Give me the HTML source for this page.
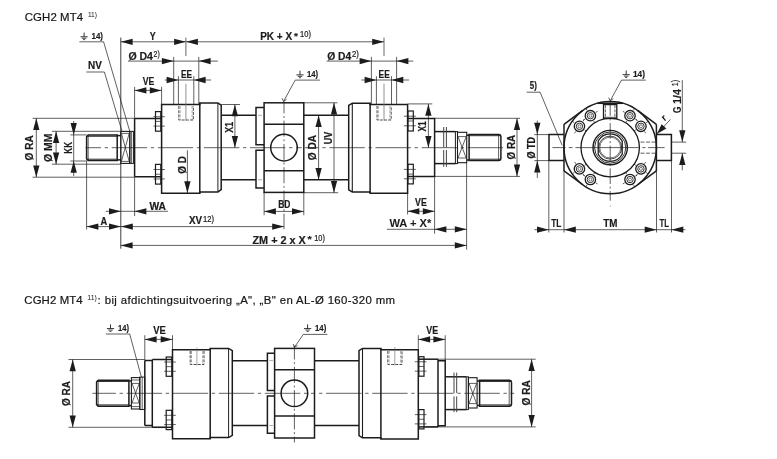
<!DOCTYPE html>
<html><head><meta charset="utf-8"><title>CGH2 MT4</title>
<style>html,body{margin:0;padding:0;background:#fff}svg{display:block;will-change:transform;-webkit-font-smoothing:antialiased}</style></head>
<body>
<svg width="777" height="459" viewBox="0 0 777 459" font-family="'Liberation Sans', Arial, sans-serif" fill="#1c1c1c">
<rect width="777" height="459" fill="#ffffff"/>
<text x="24.8" y="20.6" font-size="11.4" textLength="58.3" lengthAdjust="spacing" fill="#151515" stroke="#151515" stroke-width="0.2">CGH2 MT4</text>
<text x="87.9" y="16.6" font-size="7.6" textLength="9.1" lengthAdjust="spacingAndGlyphs" fill="#151515">11)</text>
<text x="24.3" y="303.5" font-size="11.4" textLength="58.4" lengthAdjust="spacing" fill="#151515" stroke="#151515" stroke-width="0.2">CGH2 MT4</text>
<text x="87.3" y="299.5" font-size="7.6" textLength="9.5" lengthAdjust="spacingAndGlyphs" fill="#151515">11)</text>
<text x="97.6" y="303.5" font-size="11.4" textLength="297.4" lengthAdjust="spacing" fill="#151515" stroke="#151515" stroke-width="0.2">: bij afdichtingsuitvoering „A", „B" en AL-Ø 160-320 mm</text>
<line x1="85.60" y1="147.70" x2="301.80" y2="147.70" stroke="#1c1c1c" stroke-width="0.7" stroke-dasharray="35.4 3.7 3.3 3.7" stroke-dashoffset="20"/>
<line x1="503.10" y1="147.70" x2="304.90" y2="147.70" stroke="#1c1c1c" stroke-width="0.7" stroke-dasharray="35.4 3.7 3.3 3.7" stroke-dashoffset="0"/>
<path d="M88.2,135 L117.2,135 L117.2,160.5 L88.2,160.5 L86.6,159 L86.6,136.5 Z" fill="none" stroke="#1c1c1c" stroke-width="1.5" stroke-linejoin="miter" />
<line x1="88.20" y1="135.00" x2="88.20" y2="160.50" stroke="#1c1c1c" stroke-width="0.7" />
<line x1="87.00" y1="136.30" x2="117.20" y2="136.30" stroke="#1c1c1c" stroke-width="0.9" />
<line x1="87.00" y1="159.20" x2="117.20" y2="159.20" stroke="#1c1c1c" stroke-width="0.9" />
<line x1="117.20" y1="135.60" x2="120.80" y2="135.60" stroke="#1c1c1c" stroke-width="1.5" />
<line x1="117.20" y1="159.90" x2="120.80" y2="159.90" stroke="#1c1c1c" stroke-width="1.5" />
<rect x="120.80" y="131.40" width="9.00" height="32.00" fill="none" stroke="#1c1c1c" stroke-width="1.1"/>
<line x1="121.40" y1="133.40" x2="129.20" y2="133.40" stroke="#1c1c1c" stroke-width="0.7" />
<line x1="121.40" y1="161.40" x2="129.20" y2="161.40" stroke="#1c1c1c" stroke-width="0.7" />
<line x1="121.40" y1="133.40" x2="129.20" y2="161.40" stroke="#1c1c1c" stroke-width="0.7" />
<line x1="129.20" y1="133.40" x2="121.40" y2="161.40" stroke="#1c1c1c" stroke-width="0.7" />
<rect x="129.80" y="131.40" width="3.60" height="32.00" fill="none" stroke="#1c1c1c" stroke-width="1.0"/>
<line x1="131.40" y1="131.40" x2="131.40" y2="163.40" stroke="#1c1c1c" stroke-width="0.7" />
<path d="M134.6,118.5 L161.6,118.5 M134.6,176.8 L161.6,176.8 M134.6,118.5 L134.6,176.8" fill="none" stroke="#1c1c1c" stroke-width="1.5" stroke-linejoin="miter" />
<rect x="155.50" y="111.60" width="5.30" height="19.60" fill="none" stroke="#1c1c1c" stroke-width="1.2"/>
<line x1="155.50" y1="116.70" x2="160.80" y2="116.70" stroke="#1c1c1c" stroke-width="0.7" />
<line x1="155.50" y1="121.40" x2="160.80" y2="121.40" stroke="#1c1c1c" stroke-width="0.7" />
<line x1="155.50" y1="126.10" x2="160.80" y2="126.10" stroke="#1c1c1c" stroke-width="0.7" />
<line x1="160.80" y1="116.70" x2="164.80" y2="116.70" stroke="#1c1c1c" stroke-width="0.7" />
<line x1="153.50" y1="116.70" x2="155.50" y2="116.70" stroke="#1c1c1c" stroke-width="0.7" />
<line x1="160.80" y1="126.10" x2="164.80" y2="126.10" stroke="#1c1c1c" stroke-width="0.7" />
<line x1="153.50" y1="126.10" x2="155.50" y2="126.10" stroke="#1c1c1c" stroke-width="0.7" />
<rect x="155.50" y="164.40" width="5.30" height="19.70" fill="none" stroke="#1c1c1c" stroke-width="1.2"/>
<line x1="155.50" y1="169.52" x2="160.80" y2="169.52" stroke="#1c1c1c" stroke-width="0.7" />
<line x1="155.50" y1="174.25" x2="160.80" y2="174.25" stroke="#1c1c1c" stroke-width="0.7" />
<line x1="155.50" y1="178.98" x2="160.80" y2="178.98" stroke="#1c1c1c" stroke-width="0.7" />
<line x1="160.80" y1="169.52" x2="164.80" y2="169.52" stroke="#1c1c1c" stroke-width="0.7" />
<line x1="153.50" y1="169.52" x2="155.50" y2="169.52" stroke="#1c1c1c" stroke-width="0.7" />
<line x1="160.80" y1="178.98" x2="164.80" y2="178.98" stroke="#1c1c1c" stroke-width="0.7" />
<line x1="153.50" y1="178.98" x2="155.50" y2="178.98" stroke="#1c1c1c" stroke-width="0.7" />
<path d="M161.6,104.4 L199.8,104.4 L199.8,103.1 L217.9,103.1 L221.2,105.1 L221.2,189.7 L217.9,191.9 L199.8,191.9 L199.8,193.2 L161.6,193.2 Z" fill="none" stroke="#1c1c1c" stroke-width="1.5" stroke-linejoin="miter" />
<line x1="199.80" y1="103.10" x2="199.80" y2="193.20" stroke="#1c1c1c" stroke-width="1.5" />
<line x1="217.90" y1="103.10" x2="217.90" y2="191.90" stroke="#222" stroke-width="1.0" />
<path d="M178.8,106 L178.8,120 L193.4,120 L193.4,106" fill="none" stroke="#3a3a3a" stroke-width="0.9" stroke-dasharray="3 1.2"/>
<path d="M180.10000000000002,106 L180.10000000000002,120 M192.1,106 L192.1,120" fill="none" stroke="#666" stroke-width="0.6" stroke-dasharray="3 1.2"/>
<line x1="221.20" y1="115.30" x2="256.00" y2="115.30" stroke="#1c1c1c" stroke-width="1.5" />
<line x1="221.20" y1="179.80" x2="256.00" y2="179.80" stroke="#1c1c1c" stroke-width="1.5" />
<line x1="303.80" y1="115.30" x2="348.70" y2="115.30" stroke="#1c1c1c" stroke-width="1.5" />
<line x1="303.80" y1="179.80" x2="348.70" y2="179.80" stroke="#1c1c1c" stroke-width="1.5" />
<path d="M264.1,107.5 L256,107.5 L256,144.8 L264.1,144.8 M264.1,150.3 L256,150.3 L256,187.9 L264.1,187.9" fill="none" stroke="#1c1c1c" stroke-width="1.5" stroke-linejoin="miter" />
<line x1="258.00" y1="115.30" x2="262.00" y2="115.30" stroke="#888" stroke-width="0.7" />
<line x1="258.00" y1="179.80" x2="262.00" y2="179.80" stroke="#888" stroke-width="0.7" />
<rect x="264.10" y="102.80" width="39.70" height="89.60" fill="none" stroke="#1c1c1c" stroke-width="1.5"/>
<line x1="264.10" y1="124.30" x2="303.80" y2="124.30" stroke="#1c1c1c" stroke-width="1.5" />
<line x1="264.10" y1="170.80" x2="303.80" y2="170.80" stroke="#1c1c1c" stroke-width="1.5" />
<circle cx="284.00" cy="147.60" r="13.30" fill="none" stroke="#1c1c1c" stroke-width="1.5" />
<line x1="284.00" y1="101.40" x2="284.00" y2="229.20" stroke="#1c1c1c" stroke-width="0.7" stroke-dasharray="16 2.7 1.9 2.7" stroke-dashoffset="4.1"/>
<path d="M407.6,104.6 L370.1,104.6 L370.1,103.3 L352.3,103.3 L348.7,105.4 L348.7,189.9 L352.3,192 L370.1,192 L370.1,193.2 L407.6,193.2 Z" fill="none" stroke="#1c1c1c" stroke-width="1.5" stroke-linejoin="miter" />
<line x1="352.30" y1="103.30" x2="352.30" y2="192.00" stroke="#1c1c1c" stroke-width="1.1" />
<line x1="370.10" y1="103.30" x2="370.10" y2="193.20" stroke="#1c1c1c" stroke-width="1.5" />
<path d="M377,106 L377,120 L391.2,120 L391.2,106" fill="none" stroke="#3a3a3a" stroke-width="0.9" stroke-dasharray="3 1.2"/>
<path d="M378.3,106 L378.3,120 M389.9,106 L389.9,120" fill="none" stroke="#666" stroke-width="0.6" stroke-dasharray="3 1.2"/>
<path d="M407.6,118.5 L434.6,118.5 L434.6,176.4 L407.6,176.4" fill="none" stroke="#1c1c1c" stroke-width="1.5" stroke-linejoin="miter" />
<rect x="407.90" y="111.00" width="5.40" height="20.00" fill="none" stroke="#1c1c1c" stroke-width="1.2"/>
<line x1="407.90" y1="116.20" x2="413.30" y2="116.20" stroke="#1c1c1c" stroke-width="0.7" />
<line x1="407.90" y1="121.00" x2="413.30" y2="121.00" stroke="#1c1c1c" stroke-width="0.7" />
<line x1="407.90" y1="125.80" x2="413.30" y2="125.80" stroke="#1c1c1c" stroke-width="0.7" />
<line x1="403.90" y1="116.20" x2="407.90" y2="116.20" stroke="#1c1c1c" stroke-width="0.7" />
<line x1="413.30" y1="116.20" x2="415.80" y2="116.20" stroke="#1c1c1c" stroke-width="0.7" />
<line x1="403.90" y1="125.80" x2="407.90" y2="125.80" stroke="#1c1c1c" stroke-width="0.7" />
<line x1="413.30" y1="125.80" x2="415.80" y2="125.80" stroke="#1c1c1c" stroke-width="0.7" />
<rect x="407.90" y="164.30" width="5.40" height="19.60" fill="none" stroke="#1c1c1c" stroke-width="1.2"/>
<line x1="407.90" y1="169.40" x2="413.30" y2="169.40" stroke="#1c1c1c" stroke-width="0.7" />
<line x1="407.90" y1="174.10" x2="413.30" y2="174.10" stroke="#1c1c1c" stroke-width="0.7" />
<line x1="407.90" y1="178.80" x2="413.30" y2="178.80" stroke="#1c1c1c" stroke-width="0.7" />
<line x1="403.90" y1="169.40" x2="407.90" y2="169.40" stroke="#1c1c1c" stroke-width="0.7" />
<line x1="413.30" y1="169.40" x2="415.80" y2="169.40" stroke="#1c1c1c" stroke-width="0.7" />
<line x1="403.90" y1="178.80" x2="407.90" y2="178.80" stroke="#1c1c1c" stroke-width="0.7" />
<line x1="413.30" y1="178.80" x2="415.80" y2="178.80" stroke="#1c1c1c" stroke-width="0.7" />
<line x1="434.60" y1="131.60" x2="455.40" y2="131.60" stroke="#1c1c1c" stroke-width="1.5" />
<line x1="434.60" y1="163.60" x2="455.40" y2="163.60" stroke="#1c1c1c" stroke-width="1.5" />
<line x1="443.70" y1="127.00" x2="443.70" y2="147.50" stroke="#444" stroke-width="1.0" />
<line x1="443.70" y1="150.00" x2="443.70" y2="166.80" stroke="#444" stroke-width="1.0" />
<line x1="446.40" y1="127.00" x2="446.40" y2="147.50" stroke="#444" stroke-width="1.0" />
<line x1="446.40" y1="150.00" x2="446.40" y2="166.80" stroke="#444" stroke-width="1.0" />
<rect x="455.40" y="131.60" width="2.10" height="32.00" fill="none" stroke="#1c1c1c" stroke-width="1.0"/>
<rect x="457.50" y="132.30" width="9.20" height="30.40" fill="none" stroke="#1c1c1c" stroke-width="1.1"/>
<line x1="458.00" y1="136.60" x2="466.20" y2="136.60" stroke="#1c1c1c" stroke-width="0.7" />
<line x1="458.00" y1="158.00" x2="466.20" y2="158.00" stroke="#1c1c1c" stroke-width="0.7" />
<line x1="458.00" y1="136.60" x2="466.20" y2="158.00" stroke="#1c1c1c" stroke-width="0.7" />
<line x1="466.20" y1="136.60" x2="458.00" y2="158.00" stroke="#1c1c1c" stroke-width="0.7" />
<line x1="466.70" y1="135.20" x2="469.10" y2="135.20" stroke="#1c1c1c" stroke-width="1.5" />
<line x1="466.70" y1="160.00" x2="469.10" y2="160.00" stroke="#1c1c1c" stroke-width="1.5" />
<path d="M469.1,134.4 L499,134.4 Q500.9,134.6 500.9,136.4 L500.9,158.5 Q500.9,160.3 499,160.5 L469.1,160.5 Z" fill="none" stroke="#1c1c1c" stroke-width="1.5" stroke-linejoin="miter" />
<line x1="498.60" y1="134.40" x2="498.60" y2="160.50" stroke="#1c1c1c" stroke-width="0.7" />
<line x1="469.10" y1="135.70" x2="500.40" y2="135.70" stroke="#1c1c1c" stroke-width="0.9" />
<line x1="469.10" y1="159.20" x2="500.40" y2="159.20" stroke="#1c1c1c" stroke-width="0.9" />
<line x1="120.80" y1="37.60" x2="120.80" y2="248.70" stroke="#1c1c1c" stroke-width="0.85" />
<line x1="120.80" y1="41.80" x2="384.00" y2="41.80" stroke="#1c1c1c" stroke-width="0.7" />
<polygon points="120.80,41.80 132.60,38.65 132.60,44.95" fill="#1c1c1c"/>
<polygon points="185.90,41.80 174.10,38.65 174.10,44.95" fill="#1c1c1c"/>
<polygon points="186.10,41.80 197.90,38.65 197.90,44.95" fill="#1c1c1c"/>
<polygon points="384.00,41.80 372.20,38.65 372.20,44.95" fill="#1c1c1c"/>
<line x1="185.90" y1="37.60" x2="185.90" y2="56.00" stroke="#555" stroke-width="0.9" />
<line x1="384.00" y1="37.60" x2="384.00" y2="56.00" stroke="#555" stroke-width="0.9" />
<line x1="185.90" y1="83.70" x2="185.90" y2="120.50" stroke="#777" stroke-width="0.8" />
<line x1="384.00" y1="83.70" x2="384.00" y2="120.50" stroke="#777" stroke-width="0.8" />
<text x="149.70" y="39.80" font-size="10.7" font-weight="bold" stroke="#1c1c1c" stroke-width="0.2" textLength="5.90" lengthAdjust="spacingAndGlyphs">Y</text>
<text x="260.20" y="39.80" font-size="10.7" font-weight="bold" stroke="#1c1c1c" stroke-width="0.2" textLength="31.90" lengthAdjust="spacingAndGlyphs">PK + X</text>
<text x="293.90" y="38.80" font-size="9.4" font-weight="bold" stroke="#1c1c1c" stroke-width="0.2" textLength="3.90" lengthAdjust="spacingAndGlyphs">*</text>
<text x="300.00" y="36.80" font-size="8.6" font-weight="normal" stroke="#1c1c1c" stroke-width="0.22" textLength="10.90" lengthAdjust="spacingAndGlyphs">10)</text>
<line x1="127.90" y1="61.10" x2="217.80" y2="61.10" stroke="#1c1c1c" stroke-width="0.7" />
<polygon points="173.70,61.10 161.90,57.95 161.90,64.25" fill="#1c1c1c"/>
<polygon points="198.80,61.10 210.60,57.95 210.60,64.25" fill="#1c1c1c"/>
<line x1="173.70" y1="56.90" x2="173.70" y2="104.40" stroke="#1c1c1c" stroke-width="0.7" />
<line x1="198.80" y1="56.90" x2="198.80" y2="104.40" stroke="#1c1c1c" stroke-width="0.7" />
<text x="128.40" y="59.70" font-size="10.7" font-weight="bold" stroke="#1c1c1c" stroke-width="0.2" textLength="24.60" lengthAdjust="spacingAndGlyphs">Ø D4</text>
<text x="153.60" y="57.00" font-size="8.6" font-weight="normal" stroke="#1c1c1c" stroke-width="0.22" textLength="6.20" lengthAdjust="spacingAndGlyphs">2)</text>
<line x1="164.80" y1="80.00" x2="211.00" y2="80.00" stroke="#1c1c1c" stroke-width="0.7" />
<polygon points="178.40,80.00 166.60,76.85 166.60,83.15" fill="#1c1c1c"/>
<polygon points="193.80,80.00 205.60,76.85 205.60,83.15" fill="#1c1c1c"/>
<line x1="178.40" y1="76.20" x2="178.40" y2="105.00" stroke="#1c1c1c" stroke-width="0.7" />
<line x1="193.80" y1="76.20" x2="193.80" y2="105.00" stroke="#1c1c1c" stroke-width="0.7" />
<text x="180.90" y="78.30" font-size="10.7" font-weight="bold" stroke="#1c1c1c" stroke-width="0.2" textLength="11.20" lengthAdjust="spacingAndGlyphs">EE</text>
<line x1="134.60" y1="86.80" x2="134.60" y2="118.50" stroke="#1c1c1c" stroke-width="0.7" />
<line x1="161.60" y1="86.80" x2="161.60" y2="104.10" stroke="#1c1c1c" stroke-width="0.7" />
<line x1="134.60" y1="90.40" x2="161.60" y2="90.40" stroke="#1c1c1c" stroke-width="0.7" />
<polygon points="134.60,90.40 146.40,87.25 146.40,93.55" fill="#1c1c1c"/>
<polygon points="161.60,90.40 149.80,87.25 149.80,93.55" fill="#1c1c1c"/>
<text x="142.70" y="84.80" font-size="10.7" font-weight="bold" stroke="#1c1c1c" stroke-width="0.2" textLength="11.60" lengthAdjust="spacingAndGlyphs">VE</text>
<line x1="84.10" y1="32.60" x2="84.10" y2="36.80" stroke="#1c1c1c" stroke-width="0.9" />
<line x1="80.50" y1="36.80" x2="87.70" y2="36.80" stroke="#1c1c1c" stroke-width="0.9" />
<line x1="81.90" y1="38.30" x2="86.30" y2="38.30" stroke="#1c1c1c" stroke-width="0.8" />
<line x1="83.10" y1="39.60" x2="85.10" y2="39.60" stroke="#1c1c1c" stroke-width="0.8" />
<text x="91.50" y="39.30" font-size="9.4" font-weight="bold" stroke="#1c1c1c" stroke-width="0.2" textLength="11.50" lengthAdjust="spacingAndGlyphs">14)</text>
<line x1="79.40" y1="41.80" x2="103.60" y2="41.80" stroke="#1c1c1c" stroke-width="0.7" />
<line x1="103.60" y1="41.80" x2="129.80" y2="131.40" stroke="#1c1c1c" stroke-width="0.7" />
<text x="88.10" y="69.00" font-size="10.7" font-weight="bold" stroke="#1c1c1c" stroke-width="0.2" textLength="13.80" lengthAdjust="spacingAndGlyphs">NV</text>
<line x1="86.40" y1="72.00" x2="104.40" y2="72.00" stroke="#1c1c1c" stroke-width="0.7" />
<line x1="104.40" y1="72.00" x2="122.00" y2="131.40" stroke="#1c1c1c" stroke-width="0.7" />
<line x1="326.60" y1="61.10" x2="413.30" y2="61.10" stroke="#1c1c1c" stroke-width="0.7" />
<polygon points="371.40,61.10 359.60,57.95 359.60,64.25" fill="#1c1c1c"/>
<polygon points="396.60,61.10 408.40,57.95 408.40,64.25" fill="#1c1c1c"/>
<line x1="371.40" y1="56.90" x2="371.40" y2="103.90" stroke="#1c1c1c" stroke-width="0.7" />
<line x1="396.60" y1="56.90" x2="396.60" y2="103.90" stroke="#1c1c1c" stroke-width="0.7" />
<text x="327.20" y="59.70" font-size="10.7" font-weight="bold" stroke="#1c1c1c" stroke-width="0.2" textLength="24.00" lengthAdjust="spacingAndGlyphs">Ø D4</text>
<text x="351.90" y="57.00" font-size="8.6" font-weight="normal" stroke="#1c1c1c" stroke-width="0.22" textLength="6.90" lengthAdjust="spacingAndGlyphs">2)</text>
<line x1="361.30" y1="80.00" x2="409.10" y2="80.00" stroke="#1c1c1c" stroke-width="0.7" />
<polygon points="376.40,80.00 364.60,76.85 364.60,83.15" fill="#1c1c1c"/>
<polygon points="391.50,80.00 403.30,76.85 403.30,83.15" fill="#1c1c1c"/>
<line x1="376.40" y1="76.20" x2="376.40" y2="105.00" stroke="#1c1c1c" stroke-width="0.7" />
<line x1="391.50" y1="76.20" x2="391.50" y2="105.00" stroke="#1c1c1c" stroke-width="0.7" />
<text x="378.60" y="77.50" font-size="10.7" font-weight="bold" stroke="#1c1c1c" stroke-width="0.2" textLength="11.20" lengthAdjust="spacingAndGlyphs">EE</text>
<line x1="300.00" y1="70.70" x2="300.00" y2="74.90" stroke="#1c1c1c" stroke-width="0.9" />
<line x1="296.40" y1="74.90" x2="303.60" y2="74.90" stroke="#1c1c1c" stroke-width="0.9" />
<line x1="297.80" y1="76.40" x2="302.20" y2="76.40" stroke="#1c1c1c" stroke-width="0.8" />
<line x1="299.00" y1="77.70" x2="301.00" y2="77.70" stroke="#1c1c1c" stroke-width="0.8" />
<text x="307.00" y="77.30" font-size="9.4" font-weight="bold" stroke="#1c1c1c" stroke-width="0.2" textLength="11.20" lengthAdjust="spacingAndGlyphs">14)</text>
<line x1="295.20" y1="80.10" x2="319.90" y2="80.10" stroke="#1c1c1c" stroke-width="0.7" />
<line x1="295.20" y1="80.10" x2="283.60" y2="101.40" stroke="#1c1c1c" stroke-width="0.7" />
<line x1="283.60" y1="101.40" x2="282.00" y2="98.20" stroke="#1c1c1c" stroke-width="0.7" />
<line x1="283.60" y1="101.40" x2="286.60" y2="99.30" stroke="#1c1c1c" stroke-width="0.7" />
<line x1="221.20" y1="104.50" x2="240.00" y2="104.50" stroke="#1c1c1c" stroke-width="0.7" />
<line x1="234.90" y1="104.50" x2="234.90" y2="147.70" stroke="#1c1c1c" stroke-width="0.7" />
<polygon points="234.90,104.50 231.75,116.30 238.05,116.30" fill="#1c1c1c"/>
<polygon points="234.90,147.70 231.75,135.90 238.05,135.90" fill="#1c1c1c"/>
<text transform="translate(233.10,132.70) rotate(-90)" font-size="11.3" font-weight="bold" stroke="#1c1c1c" stroke-width="0.2" textLength="10.80" lengthAdjust="spacingAndGlyphs">X1</text>
<line x1="187.40" y1="150.20" x2="187.40" y2="193.00" stroke="#1c1c1c" stroke-width="0.7" />
<polygon points="187.40,193.00 184.25,181.20 190.55,181.20" fill="#1c1c1c"/>
<text transform="translate(185.70,173.70) rotate(-90)" font-size="10.7" font-weight="bold" stroke="#1c1c1c" stroke-width="0.2" textLength="17.70" lengthAdjust="spacingAndGlyphs">Ø D</text>
<line x1="32.60" y1="118.30" x2="134.60" y2="118.30" stroke="#1c1c1c" stroke-width="0.7" />
<line x1="32.60" y1="177.20" x2="134.60" y2="177.20" stroke="#1c1c1c" stroke-width="0.7" />
<line x1="36.30" y1="118.30" x2="36.30" y2="177.20" stroke="#1c1c1c" stroke-width="0.7" />
<polygon points="36.30,118.30 33.15,130.10 39.45,130.10" fill="#1c1c1c"/>
<polygon points="36.30,177.20 33.15,165.40 39.45,165.40" fill="#1c1c1c"/>
<text transform="translate(33.40,160.40) rotate(-90)" font-size="10.7" font-weight="bold" stroke="#1c1c1c" stroke-width="0.2" textLength="25.10" lengthAdjust="spacingAndGlyphs">Ø RA</text>
<line x1="51.90" y1="131.30" x2="120.80" y2="131.30" stroke="#1c1c1c" stroke-width="0.7" />
<line x1="51.90" y1="164.20" x2="120.80" y2="164.20" stroke="#1c1c1c" stroke-width="0.7" />
<line x1="56.10" y1="131.30" x2="56.10" y2="164.20" stroke="#1c1c1c" stroke-width="0.7" />
<polygon points="56.10,131.30 52.95,143.10 59.25,143.10" fill="#1c1c1c"/>
<polygon points="56.10,164.20 52.95,152.40 59.25,152.40" fill="#1c1c1c"/>
<text transform="translate(51.90,162.10) rotate(-90)" font-size="10.7" font-weight="bold" stroke="#1c1c1c" stroke-width="0.2" textLength="28.50" lengthAdjust="spacingAndGlyphs">Ø MM</text>
<line x1="70.30" y1="134.90" x2="86.60" y2="134.90" stroke="#1c1c1c" stroke-width="0.7" />
<line x1="70.30" y1="161.00" x2="86.60" y2="161.00" stroke="#1c1c1c" stroke-width="0.7" />
<line x1="73.70" y1="121.00" x2="73.70" y2="176.00" stroke="#1c1c1c" stroke-width="0.7" />
<polygon points="73.70,134.90 70.55,123.10 76.85,123.10" fill="#1c1c1c"/>
<polygon points="73.70,161.00 70.55,172.80 76.85,172.80" fill="#1c1c1c"/>
<text transform="translate(72.00,153.70) rotate(-90)" font-size="10.7" font-weight="bold" stroke="#1c1c1c" stroke-width="0.2" textLength="11.70" lengthAdjust="spacingAndGlyphs">KK</text>
<line x1="318.60" y1="115.30" x2="318.60" y2="179.80" stroke="#1c1c1c" stroke-width="0.7" />
<polygon points="318.60,115.30 315.45,127.10 321.75,127.10" fill="#1c1c1c"/>
<polygon points="318.60,179.80 315.45,168.00 321.75,168.00" fill="#1c1c1c"/>
<text transform="translate(315.90,160.20) rotate(-90)" font-size="10.7" font-weight="bold" stroke="#1c1c1c" stroke-width="0.2" textLength="25.20" lengthAdjust="spacingAndGlyphs">Ø DA</text>
<line x1="303.80" y1="102.80" x2="337.40" y2="102.80" stroke="#1c1c1c" stroke-width="0.7" />
<line x1="303.80" y1="192.70" x2="338.20" y2="192.70" stroke="#1c1c1c" stroke-width="0.7" />
<line x1="334.00" y1="102.80" x2="334.00" y2="192.70" stroke="#1c1c1c" stroke-width="0.7" />
<polygon points="334.00,102.80 330.85,114.60 337.15,114.60" fill="#1c1c1c"/>
<polygon points="334.00,192.70 330.85,180.90 337.15,180.90" fill="#1c1c1c"/>
<text transform="translate(331.50,144.30) rotate(-90)" font-size="10.7" font-weight="bold" stroke="#1c1c1c" stroke-width="0.2" textLength="12.60" lengthAdjust="spacingAndGlyphs">UV</text>
<line x1="407.60" y1="103.90" x2="432.30" y2="103.90" stroke="#1c1c1c" stroke-width="0.7" />
<line x1="428.40" y1="103.90" x2="428.40" y2="147.70" stroke="#1c1c1c" stroke-width="0.7" />
<polygon points="428.40,103.90 425.25,115.70 431.55,115.70" fill="#1c1c1c"/>
<polygon points="428.40,147.70 425.25,135.90 431.55,135.90" fill="#1c1c1c"/>
<text transform="translate(426.00,131.50) rotate(-90)" font-size="11.3" font-weight="bold" stroke="#1c1c1c" stroke-width="0.2" textLength="10.20" lengthAdjust="spacingAndGlyphs">X1</text>
<line x1="434.60" y1="118.30" x2="520.00" y2="118.30" stroke="#1c1c1c" stroke-width="0.7" />
<line x1="434.60" y1="176.40" x2="520.00" y2="176.40" stroke="#1c1c1c" stroke-width="0.7" />
<line x1="517.00" y1="118.30" x2="517.00" y2="176.40" stroke="#1c1c1c" stroke-width="0.7" />
<polygon points="517.00,118.30 513.85,130.10 520.15,130.10" fill="#1c1c1c"/>
<polygon points="517.00,176.40 513.85,164.60 520.15,164.60" fill="#1c1c1c"/>
<text transform="translate(514.90,159.40) rotate(-90)" font-size="10.7" font-weight="bold" stroke="#1c1c1c" stroke-width="0.2" textLength="24.60" lengthAdjust="spacingAndGlyphs">Ø RA</text>
<line x1="86.60" y1="160.50" x2="86.60" y2="229.60" stroke="#1c1c1c" stroke-width="0.7" />
<line x1="134.60" y1="176.80" x2="134.60" y2="216.00" stroke="#1c1c1c" stroke-width="0.7" />
<line x1="105.60" y1="211.30" x2="167.90" y2="211.30" stroke="#1c1c1c" stroke-width="0.7" />
<polygon points="120.80,211.30 109.00,208.15 109.00,214.45" fill="#1c1c1c"/>
<polygon points="134.60,211.30 146.40,208.15 146.40,214.45" fill="#1c1c1c"/>
<text x="149.40" y="209.80" font-size="10.7" font-weight="bold" stroke="#1c1c1c" stroke-width="0.2" textLength="16.50" lengthAdjust="spacingAndGlyphs">WA</text>
<line x1="86.60" y1="226.60" x2="284.00" y2="226.60" stroke="#1c1c1c" stroke-width="0.7" />
<polygon points="86.60,226.60 98.40,223.45 98.40,229.75" fill="#1c1c1c"/>
<polygon points="120.80,226.60 109.00,223.45 109.00,229.75" fill="#1c1c1c"/>
<polygon points="121.00,226.60 132.80,223.45 132.80,229.75" fill="#1c1c1c"/>
<polygon points="284.00,226.60 272.20,223.45 272.20,229.75" fill="#1c1c1c"/>
<text x="100.50" y="224.60" font-size="10.7" font-weight="bold" stroke="#1c1c1c" stroke-width="0.2" textLength="6.70" lengthAdjust="spacingAndGlyphs">A</text>
<text x="188.90" y="224.40" font-size="10.7" font-weight="bold" stroke="#1c1c1c" stroke-width="0.2" textLength="13.10" lengthAdjust="spacingAndGlyphs">XV</text>
<text x="203.00" y="221.50" font-size="8.6" font-weight="normal" stroke="#1c1c1c" stroke-width="0.22" textLength="11.00" lengthAdjust="spacingAndGlyphs">12)</text>
<line x1="120.80" y1="245.40" x2="466.60" y2="245.40" stroke="#1c1c1c" stroke-width="0.7" />
<polygon points="120.80,245.40 132.60,242.25 132.60,248.55" fill="#1c1c1c"/>
<polygon points="466.60,245.40 454.80,242.25 454.80,248.55" fill="#1c1c1c"/>
<text x="252.50" y="243.60" font-size="10.7" font-weight="bold" stroke="#1c1c1c" stroke-width="0.2" textLength="53.30" lengthAdjust="spacingAndGlyphs">ZM + 2 x X</text>
<text x="307.60" y="242.40" font-size="9.4" font-weight="bold" stroke="#1c1c1c" stroke-width="0.2" textLength="4.20" lengthAdjust="spacingAndGlyphs">*</text>
<text x="314.20" y="240.50" font-size="8.6" font-weight="normal" stroke="#1c1c1c" stroke-width="0.22" textLength="10.70" lengthAdjust="spacingAndGlyphs">10)</text>
<line x1="264.10" y1="192.40" x2="264.10" y2="215.20" stroke="#1c1c1c" stroke-width="0.7" />
<line x1="303.80" y1="192.40" x2="303.80" y2="215.20" stroke="#1c1c1c" stroke-width="0.7" />
<line x1="264.10" y1="211.40" x2="303.80" y2="211.40" stroke="#1c1c1c" stroke-width="0.7" />
<polygon points="264.10,211.40 275.90,208.25 275.90,214.55" fill="#1c1c1c"/>
<polygon points="303.80,211.40 292.00,208.25 292.00,214.55" fill="#1c1c1c"/>
<text x="278.20" y="208.10" font-size="10.7" font-weight="bold" stroke="#1c1c1c" stroke-width="0.2" textLength="12.20" lengthAdjust="spacingAndGlyphs">BD</text>
<line x1="407.60" y1="193.00" x2="407.60" y2="214.50" stroke="#1c1c1c" stroke-width="0.7" />
<line x1="434.60" y1="176.40" x2="434.60" y2="233.70" stroke="#1c1c1c" stroke-width="0.7" />
<line x1="407.60" y1="211.30" x2="434.60" y2="211.30" stroke="#1c1c1c" stroke-width="0.7" />
<polygon points="407.60,211.30 419.40,208.15 419.40,214.45" fill="#1c1c1c"/>
<polygon points="434.60,211.30 422.80,208.15 422.80,214.45" fill="#1c1c1c"/>
<text x="415.10" y="205.80" font-size="10.7" font-weight="bold" stroke="#1c1c1c" stroke-width="0.2" textLength="11.70" lengthAdjust="spacingAndGlyphs">VE</text>
<line x1="466.60" y1="162.70" x2="466.60" y2="249.60" stroke="#1c1c1c" stroke-width="0.7" />
<line x1="386.90" y1="229.30" x2="466.60" y2="229.30" stroke="#1c1c1c" stroke-width="0.7" />
<polygon points="434.60,229.30 446.40,226.15 446.40,232.45" fill="#1c1c1c"/>
<polygon points="466.60,229.30 454.80,226.15 454.80,232.45" fill="#1c1c1c"/>
<text x="389.40" y="227.20" font-size="10.9" font-weight="bold" stroke="#1c1c1c" stroke-width="0.05" textLength="42.00" lengthAdjust="spacingAndGlyphs">WA + X*</text>
<line x1="552.40" y1="147.60" x2="664.60" y2="147.60" stroke="#1c1c1c" stroke-width="0.7" stroke-dasharray="13.3 3.1 3.7 2.9 63.4 3.5 3.1 2.7 16.5 50" stroke-dashoffset="0"/>
<line x1="610.20" y1="200.70" x2="610.20" y2="101.50" stroke="#1c1c1c" stroke-width="0.7" stroke-dasharray="15.6 2.6 1.9 2.6" stroke-dashoffset="6.0"/>
<line x1="610.20" y1="205.00" x2="610.20" y2="207.00" stroke="#888" stroke-width="0.5" />
<circle cx="610.20" cy="147.60" r="46.20" fill="none" stroke="#1c1c1c" stroke-width="1.5" />
<line x1="564.00" y1="124.30" x2="564.00" y2="170.90" stroke="#1c1c1c" stroke-width="1.5" />
<line x1="564.00" y1="124.30" x2="582.74" y2="110.45" stroke="#1c1c1c" stroke-width="1.5" />
<line x1="564.00" y1="170.90" x2="582.74" y2="184.75" stroke="#1c1c1c" stroke-width="1.5" />
<line x1="656.40" y1="124.30" x2="656.40" y2="170.90" stroke="#1c1c1c" stroke-width="1.5" />
<line x1="656.40" y1="124.30" x2="637.66" y2="110.45" stroke="#1c1c1c" stroke-width="1.5" />
<line x1="656.40" y1="170.90" x2="637.66" y2="184.75" stroke="#1c1c1c" stroke-width="1.5" />
<line x1="597.50" y1="103.30" x2="623.00" y2="103.30" stroke="#1c1c1c" stroke-width="1.5" />
<circle cx="610.20" cy="147.60" r="29.20" fill="none" stroke="#1c1c1c" stroke-width="1.3" />
<circle cx="610.20" cy="147.60" r="17.20" fill="none" stroke="#1c1c1c" stroke-width="1.4" />
<circle cx="610.20" cy="147.60" r="15.60" fill="none" stroke="#1c1c1c" stroke-width="0.9" />
<path d="M598.20,140.99 A13.7,13.7 0 0 1 622.20,140.99 L622.20,154.21 A13.7,13.7 0 0 1 598.20,154.21 Z" fill="none" stroke="#1c1c1c" stroke-width="1.3" stroke-linejoin="miter" />
<circle cx="610.20" cy="147.60" r="11.50" fill="none" stroke="#1c1c1c" stroke-width="0.8" />
<circle cx="610.20" cy="147.60" r="10.40" fill="none" stroke="#1c1c1c" stroke-width="0.6" />
<circle cx="579.45" cy="126.30" r="5.20" fill="none" stroke="#1c1c1c" stroke-width="1.3" />
<circle cx="579.45" cy="126.30" r="3.20" fill="none" stroke="#1c1c1c" stroke-width="0.9" />
<circle cx="579.45" cy="126.30" r="1.50" fill="none" stroke="#1c1c1c" stroke-width="0.6" />
<line x1="575.92" y1="131.40" x2="574.61" y2="133.29" stroke="#1c1c1c" stroke-width="0.7" />
<line x1="582.98" y1="121.20" x2="584.29" y2="119.31" stroke="#1c1c1c" stroke-width="0.7" />
<line x1="574.35" y1="122.77" x2="572.46" y2="121.46" stroke="#1c1c1c" stroke-width="0.7" />
<line x1="584.55" y1="129.83" x2="586.44" y2="131.14" stroke="#1c1c1c" stroke-width="0.7" />
<circle cx="579.45" cy="168.90" r="5.20" fill="none" stroke="#1c1c1c" stroke-width="1.3" />
<circle cx="579.45" cy="168.90" r="3.20" fill="none" stroke="#1c1c1c" stroke-width="0.9" />
<circle cx="579.45" cy="168.90" r="1.50" fill="none" stroke="#1c1c1c" stroke-width="0.6" />
<line x1="582.98" y1="174.00" x2="584.29" y2="175.89" stroke="#1c1c1c" stroke-width="0.7" />
<line x1="575.92" y1="163.80" x2="574.61" y2="161.91" stroke="#1c1c1c" stroke-width="0.7" />
<line x1="574.35" y1="172.43" x2="572.46" y2="173.74" stroke="#1c1c1c" stroke-width="0.7" />
<line x1="584.55" y1="165.37" x2="586.44" y2="164.06" stroke="#1c1c1c" stroke-width="0.7" />
<circle cx="640.95" cy="126.30" r="5.20" fill="none" stroke="#1c1c1c" stroke-width="1.3" />
<circle cx="640.95" cy="126.30" r="3.20" fill="none" stroke="#1c1c1c" stroke-width="0.9" />
<circle cx="640.95" cy="126.30" r="1.50" fill="none" stroke="#1c1c1c" stroke-width="0.6" />
<line x1="637.42" y1="121.20" x2="636.11" y2="119.31" stroke="#1c1c1c" stroke-width="0.7" />
<line x1="644.48" y1="131.40" x2="645.79" y2="133.29" stroke="#1c1c1c" stroke-width="0.7" />
<line x1="646.05" y1="122.77" x2="647.94" y2="121.46" stroke="#1c1c1c" stroke-width="0.7" />
<line x1="635.85" y1="129.83" x2="633.96" y2="131.14" stroke="#1c1c1c" stroke-width="0.7" />
<circle cx="640.95" cy="168.90" r="5.20" fill="none" stroke="#1c1c1c" stroke-width="1.3" />
<circle cx="640.95" cy="168.90" r="3.20" fill="none" stroke="#1c1c1c" stroke-width="0.9" />
<circle cx="640.95" cy="168.90" r="1.50" fill="none" stroke="#1c1c1c" stroke-width="0.6" />
<line x1="644.48" y1="163.80" x2="645.79" y2="161.91" stroke="#1c1c1c" stroke-width="0.7" />
<line x1="637.42" y1="174.00" x2="636.11" y2="175.89" stroke="#1c1c1c" stroke-width="0.7" />
<line x1="646.05" y1="172.43" x2="647.94" y2="173.74" stroke="#1c1c1c" stroke-width="0.7" />
<line x1="635.85" y1="165.37" x2="633.96" y2="164.06" stroke="#1c1c1c" stroke-width="0.7" />
<circle cx="590.40" cy="115.70" r="5.20" fill="none" stroke="#1c1c1c" stroke-width="1.3" />
<circle cx="590.40" cy="115.70" r="3.20" fill="none" stroke="#1c1c1c" stroke-width="0.9" />
<circle cx="590.40" cy="115.70" r="1.50" fill="none" stroke="#1c1c1c" stroke-width="0.6" />
<line x1="585.13" y1="118.97" x2="583.18" y2="120.18" stroke="#1c1c1c" stroke-width="0.7" />
<line x1="595.67" y1="112.43" x2="597.62" y2="111.22" stroke="#1c1c1c" stroke-width="0.7" />
<line x1="587.13" y1="110.43" x2="585.92" y2="108.48" stroke="#1c1c1c" stroke-width="0.7" />
<line x1="593.67" y1="120.97" x2="594.88" y2="122.92" stroke="#1c1c1c" stroke-width="0.7" />
<circle cx="590.40" cy="179.50" r="5.20" fill="none" stroke="#1c1c1c" stroke-width="1.3" />
<circle cx="590.40" cy="179.50" r="3.20" fill="none" stroke="#1c1c1c" stroke-width="0.9" />
<circle cx="590.40" cy="179.50" r="1.50" fill="none" stroke="#1c1c1c" stroke-width="0.6" />
<line x1="595.67" y1="182.77" x2="597.62" y2="183.98" stroke="#1c1c1c" stroke-width="0.7" />
<line x1="585.13" y1="176.23" x2="583.18" y2="175.02" stroke="#1c1c1c" stroke-width="0.7" />
<line x1="587.13" y1="184.77" x2="585.92" y2="186.72" stroke="#1c1c1c" stroke-width="0.7" />
<line x1="593.67" y1="174.23" x2="594.88" y2="172.28" stroke="#1c1c1c" stroke-width="0.7" />
<circle cx="630.00" cy="115.70" r="5.20" fill="none" stroke="#1c1c1c" stroke-width="1.3" />
<circle cx="630.00" cy="115.70" r="3.20" fill="none" stroke="#1c1c1c" stroke-width="0.9" />
<circle cx="630.00" cy="115.70" r="1.50" fill="none" stroke="#1c1c1c" stroke-width="0.6" />
<line x1="624.73" y1="112.43" x2="622.78" y2="111.22" stroke="#1c1c1c" stroke-width="0.7" />
<line x1="635.27" y1="118.97" x2="637.22" y2="120.18" stroke="#1c1c1c" stroke-width="0.7" />
<line x1="633.27" y1="110.43" x2="634.48" y2="108.48" stroke="#1c1c1c" stroke-width="0.7" />
<line x1="626.73" y1="120.97" x2="625.52" y2="122.92" stroke="#1c1c1c" stroke-width="0.7" />
<circle cx="630.00" cy="179.50" r="5.20" fill="none" stroke="#1c1c1c" stroke-width="1.3" />
<circle cx="630.00" cy="179.50" r="3.20" fill="none" stroke="#1c1c1c" stroke-width="0.9" />
<circle cx="630.00" cy="179.50" r="1.50" fill="none" stroke="#1c1c1c" stroke-width="0.6" />
<line x1="635.27" y1="176.23" x2="637.22" y2="175.02" stroke="#1c1c1c" stroke-width="0.7" />
<line x1="624.73" y1="182.77" x2="622.78" y2="183.98" stroke="#1c1c1c" stroke-width="0.7" />
<line x1="633.27" y1="184.77" x2="634.48" y2="186.72" stroke="#1c1c1c" stroke-width="0.7" />
<line x1="626.73" y1="174.23" x2="625.52" y2="172.28" stroke="#1c1c1c" stroke-width="0.7" />
<path d="M564,134.6 L549,134.6 L549,160.6 L564,160.6" fill="none" stroke="#1c1c1c" stroke-width="1.5" stroke-linejoin="miter" />
<path d="M656.6,134.6 L671.4,134.6 L671.4,160.6 L656.6,160.6" fill="none" stroke="#1c1c1c" stroke-width="1.5" stroke-linejoin="miter" />
<rect x="603.50" y="104.60" width="13.30" height="13.80" fill="none" stroke="#1c1c1c" stroke-width="1.3"/>
<path d="M605.4,105.2 L605.4,117.6 M614.9,105.2 L614.9,117.6" fill="none" stroke="#333" stroke-width="0.8" stroke-dasharray="3 1.2"/><path d="M604,117.3 L616.4,117.3" fill="none" stroke="#333" stroke-width="0.8"/>
<line x1="640.50" y1="142.10" x2="656.60" y2="142.10" stroke="#1c1c1c" stroke-width="0.7" stroke-dasharray="4 1.5"/>
<line x1="640.50" y1="153.20" x2="656.60" y2="153.20" stroke="#1c1c1c" stroke-width="0.7" stroke-dasharray="4 1.5"/>
<line x1="671.40" y1="142.10" x2="686.20" y2="142.10" stroke="#1c1c1c" stroke-width="0.7" />
<line x1="671.40" y1="153.20" x2="686.20" y2="153.20" stroke="#1c1c1c" stroke-width="0.7" />
<line x1="682.30" y1="80.10" x2="682.30" y2="142.10" stroke="#1c1c1c" stroke-width="0.7" />
<line x1="682.30" y1="153.20" x2="682.30" y2="170.30" stroke="#1c1c1c" stroke-width="0.7" />
<polygon points="682.30,142.10 679.15,130.30 685.45,130.30" fill="#1c1c1c"/>
<polygon points="682.30,153.20 679.15,165.00 685.45,165.00" fill="#1c1c1c"/>
<text transform="translate(680.60,113.10) rotate(-90)" font-size="11" font-weight="bold" stroke="#1c1c1c" stroke-width="0.1" textLength="6.50" lengthAdjust="spacingAndGlyphs">G</text>
<text transform="translate(680.60,104.00) rotate(-90)" font-size="11" font-weight="bold" stroke="#1c1c1c" stroke-width="0.1" textLength="14.80" lengthAdjust="spacingAndGlyphs">1/4</text>
<text transform="translate(678.20,86.20) rotate(-90)" font-size="8.6" font-weight="normal" stroke="#1c1c1c" stroke-width="0.22" textLength="6.20" lengthAdjust="spacingAndGlyphs">1)</text>
<text transform="translate(664.6,121.6) rotate(-40)" font-size="10" font-weight="bold">r</text>
<line x1="670.50" y1="119.40" x2="656.80" y2="134.00" stroke="#1c1c1c" stroke-width="0.7" />
<polygon points="656.80,134.00 661.65,124.15 666.32,128.53" fill="#1c1c1c"/>
<text x="529.70" y="89.40" font-size="10.7" font-weight="bold" stroke="#1c1c1c" stroke-width="0.2" textLength="7.10" lengthAdjust="spacingAndGlyphs">5)</text>
<line x1="526.70" y1="92.20" x2="540.10" y2="92.20" stroke="#1c1c1c" stroke-width="0.7" />
<line x1="540.10" y1="92.20" x2="562.20" y2="145.40" stroke="#1c1c1c" stroke-width="0.7" />
<line x1="626.20" y1="70.50" x2="626.20" y2="74.70" stroke="#1c1c1c" stroke-width="0.9" />
<line x1="622.60" y1="74.70" x2="629.80" y2="74.70" stroke="#1c1c1c" stroke-width="0.9" />
<line x1="624.00" y1="76.20" x2="628.40" y2="76.20" stroke="#1c1c1c" stroke-width="0.8" />
<line x1="625.20" y1="77.50" x2="627.20" y2="77.50" stroke="#1c1c1c" stroke-width="0.8" />
<text x="633.00" y="77.30" font-size="9.4" font-weight="bold" stroke="#1c1c1c" stroke-width="0.2" textLength="12.00" lengthAdjust="spacingAndGlyphs">14)</text>
<line x1="621.50" y1="80.10" x2="645.80" y2="80.10" stroke="#1c1c1c" stroke-width="0.7" />
<line x1="621.50" y1="80.10" x2="610.20" y2="100.80" stroke="#1c1c1c" stroke-width="0.7" />
<line x1="610.20" y1="100.80" x2="608.60" y2="97.60" stroke="#1c1c1c" stroke-width="0.7" />
<line x1="610.20" y1="100.80" x2="613.20" y2="98.70" stroke="#1c1c1c" stroke-width="0.7" />
<line x1="534.30" y1="134.60" x2="549.00" y2="134.60" stroke="#1c1c1c" stroke-width="0.7" />
<line x1="534.30" y1="160.60" x2="549.00" y2="160.60" stroke="#1c1c1c" stroke-width="0.7" />
<line x1="537.30" y1="120.50" x2="537.30" y2="177.90" stroke="#1c1c1c" stroke-width="0.7" />
<polygon points="537.30,134.60 534.15,122.80 540.45,122.80" fill="#1c1c1c"/>
<polygon points="537.30,160.60 534.15,172.40 540.45,172.40" fill="#1c1c1c"/>
<text transform="translate(535.30,158.60) rotate(-90)" font-size="10.7" font-weight="bold" stroke="#1c1c1c" stroke-width="0.2" textLength="21.60" lengthAdjust="spacingAndGlyphs">Ø TD</text>
<line x1="548.80" y1="160.60" x2="548.80" y2="232.50" stroke="#1c1c1c" stroke-width="0.7" />
<line x1="564.00" y1="170.60" x2="564.00" y2="232.50" stroke="#1c1c1c" stroke-width="0.7" />
<line x1="656.50" y1="170.60" x2="656.50" y2="232.50" stroke="#1c1c1c" stroke-width="0.7" />
<line x1="671.50" y1="160.60" x2="671.50" y2="232.50" stroke="#1c1c1c" stroke-width="0.7" />
<line x1="534.40" y1="229.70" x2="685.40" y2="229.70" stroke="#1c1c1c" stroke-width="0.7" />
<polygon points="548.80,229.70 537.00,226.55 537.00,232.85" fill="#1c1c1c"/>
<polygon points="564.00,229.70 575.80,226.55 575.80,232.85" fill="#1c1c1c"/>
<polygon points="656.50,229.70 644.70,226.55 644.70,232.85" fill="#1c1c1c"/>
<polygon points="671.50,229.70 683.30,226.55 683.30,232.85" fill="#1c1c1c"/>
<text x="551.20" y="227.00" font-size="10.7" font-weight="bold" stroke="#1c1c1c" stroke-width="0.2" textLength="10.10" lengthAdjust="spacingAndGlyphs">TL</text>
<text x="603.30" y="227.00" font-size="10.7" font-weight="bold" stroke="#1c1c1c" stroke-width="0.2" textLength="14.20" lengthAdjust="spacingAndGlyphs">TM</text>
<text x="659.50" y="227.00" font-size="10.7" font-weight="bold" stroke="#1c1c1c" stroke-width="0.2" textLength="9.50" lengthAdjust="spacingAndGlyphs">TL</text>
<line x1="92.40" y1="393.30" x2="315.10" y2="393.30" stroke="#1c1c1c" stroke-width="0.7" stroke-dasharray="35.4 3.7 3.3 3.7" stroke-dashoffset="11.9"/>
<line x1="319.10" y1="393.30" x2="514.20" y2="393.30" stroke="#1c1c1c" stroke-width="0.7" stroke-dasharray="35.4 3.7 3.3 3.7" stroke-dashoffset="39.1"/>
<path d="M98.2,380.2 L128.9,380.2 L128.9,406.2 L98.2,406.2 L96.6,404.7 L96.6,381.7 Z" fill="none" stroke="#1c1c1c" stroke-width="1.5" stroke-linejoin="miter" />
<line x1="98.20" y1="380.20" x2="98.20" y2="406.20" stroke="#1c1c1c" stroke-width="0.7" />
<line x1="97.00" y1="381.50" x2="128.90" y2="381.50" stroke="#1c1c1c" stroke-width="0.9" />
<line x1="97.00" y1="404.90" x2="128.90" y2="404.90" stroke="#1c1c1c" stroke-width="0.9" />
<line x1="128.90" y1="381.00" x2="131.40" y2="381.00" stroke="#1c1c1c" stroke-width="1.5" />
<line x1="128.90" y1="405.60" x2="131.40" y2="405.60" stroke="#1c1c1c" stroke-width="1.5" />
<rect x="131.40" y="377.60" width="8.40" height="31.40" fill="none" stroke="#1c1c1c" stroke-width="1.1"/>
<line x1="132.00" y1="383.40" x2="139.20" y2="383.40" stroke="#1c1c1c" stroke-width="0.7" />
<line x1="132.00" y1="403.00" x2="139.20" y2="403.00" stroke="#1c1c1c" stroke-width="0.7" />
<line x1="132.00" y1="383.40" x2="139.20" y2="403.00" stroke="#1c1c1c" stroke-width="0.7" />
<line x1="139.20" y1="383.40" x2="132.00" y2="403.00" stroke="#1c1c1c" stroke-width="0.7" />
<line x1="132.00" y1="380.00" x2="139.20" y2="380.00" stroke="#1c1c1c" stroke-width="0.7" />
<line x1="132.00" y1="406.60" x2="139.20" y2="406.60" stroke="#1c1c1c" stroke-width="0.7" />
<rect x="139.80" y="377.10" width="5.00" height="32.40" fill="none" stroke="#1c1c1c" stroke-width="1.0"/>
<line x1="142.20" y1="377.10" x2="142.20" y2="409.50" stroke="#1c1c1c" stroke-width="0.7" />
<path d="M144.8,360.5 L152.3,360.5 M144.8,425.6 L152.3,425.6 M144.8,360.5 L144.8,425.6 M152.3,359.5 L152.3,427.3" fill="none" stroke="#1c1c1c" stroke-width="1.5" stroke-linejoin="miter" />
<line x1="152.30" y1="359.50" x2="172.50" y2="359.50" stroke="#1c1c1c" stroke-width="1.5" />
<line x1="152.30" y1="427.30" x2="172.50" y2="427.30" stroke="#1c1c1c" stroke-width="1.5" />
<rect x="166.20" y="357.00" width="5.60" height="19.30" fill="none" stroke="#1c1c1c" stroke-width="1.2"/>
<line x1="166.20" y1="362.02" x2="171.80" y2="362.02" stroke="#1c1c1c" stroke-width="0.7" />
<line x1="166.20" y1="366.65" x2="171.80" y2="366.65" stroke="#1c1c1c" stroke-width="0.7" />
<line x1="166.20" y1="371.28" x2="171.80" y2="371.28" stroke="#1c1c1c" stroke-width="0.7" />
<line x1="171.80" y1="362.02" x2="175.80" y2="362.02" stroke="#1c1c1c" stroke-width="0.7" />
<line x1="164.20" y1="362.02" x2="166.20" y2="362.02" stroke="#1c1c1c" stroke-width="0.7" />
<line x1="171.80" y1="371.28" x2="175.80" y2="371.28" stroke="#1c1c1c" stroke-width="0.7" />
<line x1="164.20" y1="371.28" x2="166.20" y2="371.28" stroke="#1c1c1c" stroke-width="0.7" />
<rect x="166.20" y="410.30" width="5.60" height="19.30" fill="none" stroke="#1c1c1c" stroke-width="1.2"/>
<line x1="166.20" y1="415.32" x2="171.80" y2="415.32" stroke="#1c1c1c" stroke-width="0.7" />
<line x1="166.20" y1="419.95" x2="171.80" y2="419.95" stroke="#1c1c1c" stroke-width="0.7" />
<line x1="166.20" y1="424.58" x2="171.80" y2="424.58" stroke="#1c1c1c" stroke-width="0.7" />
<line x1="171.80" y1="415.32" x2="175.80" y2="415.32" stroke="#1c1c1c" stroke-width="0.7" />
<line x1="164.20" y1="415.32" x2="166.20" y2="415.32" stroke="#1c1c1c" stroke-width="0.7" />
<line x1="171.80" y1="424.58" x2="175.80" y2="424.58" stroke="#1c1c1c" stroke-width="0.7" />
<line x1="164.20" y1="424.58" x2="166.20" y2="424.58" stroke="#1c1c1c" stroke-width="0.7" />
<path d="M172.5,349.65 L210.2,349.65 L210.2,348.4 L228.6,348.4 L232.3,350.6 L232.3,435.4 L228.6,437.6 L210.2,437.6 L210.2,438.8 L172.5,438.8 Z" fill="none" stroke="#1c1c1c" stroke-width="1.5" stroke-linejoin="miter" />
<line x1="210.20" y1="348.40" x2="210.20" y2="438.80" stroke="#1c1c1c" stroke-width="1.5" />
<line x1="228.60" y1="348.40" x2="228.60" y2="437.60" stroke="#222" stroke-width="1.0" />
<path d="M190.2,351 L190.2,364.5 L204,364.5 L204,351" fill="none" stroke="#3a3a3a" stroke-width="0.9" stroke-dasharray="3 1.2"/>
<path d="M191.5,351 L191.5,364.5 M202.7,351 L202.7,364.5" fill="none" stroke="#666" stroke-width="0.6" stroke-dasharray="3 1.2"/>
<line x1="196.90" y1="347.50" x2="196.90" y2="365.50" stroke="#666" stroke-width="0.6" />
<line x1="232.30" y1="360.80" x2="267.40" y2="360.80" stroke="#1c1c1c" stroke-width="1.5" />
<line x1="232.30" y1="425.50" x2="267.40" y2="425.50" stroke="#1c1c1c" stroke-width="1.5" />
<line x1="314.50" y1="360.80" x2="359.00" y2="360.80" stroke="#1c1c1c" stroke-width="1.5" />
<line x1="314.50" y1="425.50" x2="359.00" y2="425.50" stroke="#1c1c1c" stroke-width="1.5" />
<path d="M274.6,353.2 L267.4,353.2 L267.4,390.6 L274.6,390.6 M274.6,396 L267.4,396 L267.4,433.2 L274.6,433.2" fill="none" stroke="#1c1c1c" stroke-width="1.5" stroke-linejoin="miter" />
<line x1="269.40" y1="360.60" x2="273.00" y2="360.60" stroke="#888" stroke-width="0.7" />
<line x1="269.40" y1="425.50" x2="273.00" y2="425.50" stroke="#888" stroke-width="0.7" />
<rect x="274.60" y="348.40" width="39.90" height="89.60" fill="none" stroke="#1c1c1c" stroke-width="1.5"/>
<line x1="274.60" y1="369.70" x2="314.50" y2="369.70" stroke="#1c1c1c" stroke-width="1.5" />
<line x1="274.60" y1="416.10" x2="314.50" y2="416.10" stroke="#1c1c1c" stroke-width="1.5" />
<circle cx="294.40" cy="393.30" r="13.30" fill="none" stroke="#1c1c1c" stroke-width="1.5" />
<line x1="294.40" y1="345.50" x2="294.40" y2="442.50" stroke="#1c1c1c" stroke-width="0.7" stroke-dasharray="16 2.7 1.9 2.7" stroke-dashoffset="2"/>
<path d="M418.3,349.65 L380.9,349.65 L380.9,348.4 L362.5,348.4 L359,350.6 L359,435.6 L362.5,437.8 L380.9,437.8 L380.9,439 L418.3,439 Z" fill="none" stroke="#1c1c1c" stroke-width="1.5" stroke-linejoin="miter" />
<line x1="362.50" y1="348.40" x2="362.50" y2="437.80" stroke="#1c1c1c" stroke-width="1.1" />
<line x1="380.90" y1="348.40" x2="380.90" y2="439.00" stroke="#1c1c1c" stroke-width="1.5" />
<path d="M387.8,351 L387.8,364.5 L402,364.5 L402,351" fill="none" stroke="#3a3a3a" stroke-width="0.9" stroke-dasharray="3 1.2"/>
<path d="M389.1,351 L389.1,364.5 M400.7,351 L400.7,364.5" fill="none" stroke="#666" stroke-width="0.6" stroke-dasharray="3 1.2"/>
<line x1="394.80" y1="347.00" x2="394.80" y2="365.50" stroke="#666" stroke-width="0.6" />
<line x1="418.30" y1="359.20" x2="438.00" y2="359.20" stroke="#1c1c1c" stroke-width="1.5" />
<line x1="418.30" y1="426.90" x2="438.00" y2="426.90" stroke="#1c1c1c" stroke-width="1.5" />
<path d="M438,359.2 L438,426.9 M438,360.8 L445.2,360.8 L445.2,425.8 L438,425.8" fill="none" stroke="#1c1c1c" stroke-width="1.5" stroke-linejoin="miter" />
<rect x="418.80" y="356.70" width="5.20" height="19.50" fill="none" stroke="#1c1c1c" stroke-width="1.2"/>
<line x1="418.80" y1="361.77" x2="424.00" y2="361.77" stroke="#1c1c1c" stroke-width="0.7" />
<line x1="418.80" y1="366.45" x2="424.00" y2="366.45" stroke="#1c1c1c" stroke-width="0.7" />
<line x1="418.80" y1="371.13" x2="424.00" y2="371.13" stroke="#1c1c1c" stroke-width="0.7" />
<line x1="414.80" y1="361.77" x2="418.80" y2="361.77" stroke="#1c1c1c" stroke-width="0.7" />
<line x1="424.00" y1="361.77" x2="426.50" y2="361.77" stroke="#1c1c1c" stroke-width="0.7" />
<line x1="414.80" y1="371.13" x2="418.80" y2="371.13" stroke="#1c1c1c" stroke-width="0.7" />
<line x1="424.00" y1="371.13" x2="426.50" y2="371.13" stroke="#1c1c1c" stroke-width="0.7" />
<rect x="418.80" y="409.60" width="5.20" height="19.30" fill="none" stroke="#1c1c1c" stroke-width="1.2"/>
<line x1="418.80" y1="414.62" x2="424.00" y2="414.62" stroke="#1c1c1c" stroke-width="0.7" />
<line x1="418.80" y1="419.25" x2="424.00" y2="419.25" stroke="#1c1c1c" stroke-width="0.7" />
<line x1="418.80" y1="423.88" x2="424.00" y2="423.88" stroke="#1c1c1c" stroke-width="0.7" />
<line x1="414.80" y1="414.62" x2="418.80" y2="414.62" stroke="#1c1c1c" stroke-width="0.7" />
<line x1="424.00" y1="414.62" x2="426.50" y2="414.62" stroke="#1c1c1c" stroke-width="0.7" />
<line x1="414.80" y1="423.88" x2="418.80" y2="423.88" stroke="#1c1c1c" stroke-width="0.7" />
<line x1="424.00" y1="423.88" x2="426.50" y2="423.88" stroke="#1c1c1c" stroke-width="0.7" />
<line x1="445.20" y1="376.80" x2="466.20" y2="376.80" stroke="#1c1c1c" stroke-width="1.5" />
<line x1="445.20" y1="409.60" x2="466.20" y2="409.60" stroke="#1c1c1c" stroke-width="1.5" />
<line x1="454.00" y1="372.60" x2="454.00" y2="393.00" stroke="#444" stroke-width="1.0" />
<line x1="454.00" y1="396.40" x2="454.00" y2="412.20" stroke="#444" stroke-width="1.0" />
<line x1="456.70" y1="372.60" x2="456.70" y2="393.00" stroke="#444" stroke-width="1.0" />
<line x1="456.70" y1="396.40" x2="456.70" y2="412.20" stroke="#444" stroke-width="1.0" />
<rect x="466.20" y="376.80" width="2.20" height="32.80" fill="none" stroke="#1c1c1c" stroke-width="1.0"/>
<rect x="468.40" y="377.70" width="8.70" height="30.30" fill="none" stroke="#1c1c1c" stroke-width="1.1"/>
<line x1="469.00" y1="383.40" x2="476.60" y2="383.40" stroke="#1c1c1c" stroke-width="0.7" />
<line x1="469.00" y1="403.60" x2="476.60" y2="403.60" stroke="#1c1c1c" stroke-width="0.7" />
<line x1="469.00" y1="383.40" x2="476.60" y2="403.60" stroke="#1c1c1c" stroke-width="0.7" />
<line x1="476.60" y1="383.40" x2="469.00" y2="403.60" stroke="#1c1c1c" stroke-width="0.7" />
<line x1="477.10" y1="381.00" x2="479.60" y2="381.00" stroke="#1c1c1c" stroke-width="1.5" />
<line x1="477.10" y1="405.40" x2="479.60" y2="405.40" stroke="#1c1c1c" stroke-width="1.5" />
<path d="M479.6,380.2 L509.6,380.2 Q511.5,380.4 511.5,382.2 L511.5,404.2 Q511.5,406 509.6,406.2 L479.6,406.2 Z" fill="none" stroke="#1c1c1c" stroke-width="1.5" stroke-linejoin="miter" />
<line x1="509.20" y1="380.20" x2="509.20" y2="406.20" stroke="#1c1c1c" stroke-width="0.7" />
<line x1="479.60" y1="381.50" x2="511.00" y2="381.50" stroke="#1c1c1c" stroke-width="0.9" />
<line x1="479.60" y1="404.90" x2="511.00" y2="404.90" stroke="#1c1c1c" stroke-width="0.9" />
<line x1="110.50" y1="324.40" x2="110.50" y2="328.60" stroke="#1c1c1c" stroke-width="0.9" />
<line x1="106.90" y1="328.60" x2="114.10" y2="328.60" stroke="#1c1c1c" stroke-width="0.9" />
<line x1="108.30" y1="330.10" x2="112.70" y2="330.10" stroke="#1c1c1c" stroke-width="0.8" />
<line x1="109.50" y1="331.40" x2="111.50" y2="331.40" stroke="#1c1c1c" stroke-width="0.8" />
<text x="118.00" y="331.30" font-size="9.4" font-weight="bold" stroke="#1c1c1c" stroke-width="0.2" textLength="11.00" lengthAdjust="spacingAndGlyphs">14)</text>
<line x1="105.80" y1="334.00" x2="129.70" y2="334.00" stroke="#1c1c1c" stroke-width="0.7" />
<line x1="129.70" y1="334.00" x2="141.40" y2="377.10" stroke="#1c1c1c" stroke-width="0.7" />
<line x1="144.80" y1="335.20" x2="144.80" y2="360.50" stroke="#1c1c1c" stroke-width="0.7" />
<line x1="172.50" y1="335.20" x2="172.50" y2="349.40" stroke="#1c1c1c" stroke-width="0.7" />
<line x1="144.80" y1="339.40" x2="172.50" y2="339.40" stroke="#1c1c1c" stroke-width="0.7" />
<polygon points="144.80,339.40 156.60,336.25 156.60,342.55" fill="#1c1c1c"/>
<polygon points="172.50,339.40 160.70,336.25 160.70,342.55" fill="#1c1c1c"/>
<text x="153.20" y="333.50" font-size="10.5" font-weight="bold" stroke="#1c1c1c" stroke-width="0.2" textLength="12.60" lengthAdjust="spacingAndGlyphs">VE</text>
<line x1="307.60" y1="324.40" x2="307.60" y2="328.60" stroke="#1c1c1c" stroke-width="0.9" />
<line x1="304.00" y1="328.60" x2="311.20" y2="328.60" stroke="#1c1c1c" stroke-width="0.9" />
<line x1="305.40" y1="330.10" x2="309.80" y2="330.10" stroke="#1c1c1c" stroke-width="0.8" />
<line x1="306.60" y1="331.40" x2="308.60" y2="331.40" stroke="#1c1c1c" stroke-width="0.8" />
<text x="315.00" y="331.30" font-size="9.4" font-weight="bold" stroke="#1c1c1c" stroke-width="0.2" textLength="11.30" lengthAdjust="spacingAndGlyphs">14)</text>
<line x1="303.30" y1="334.40" x2="327.40" y2="334.40" stroke="#1c1c1c" stroke-width="0.7" />
<line x1="303.30" y1="334.40" x2="294.40" y2="347.30" stroke="#1c1c1c" stroke-width="0.7" />
<line x1="294.40" y1="347.30" x2="293.20" y2="344.00" stroke="#1c1c1c" stroke-width="0.7" />
<line x1="294.40" y1="347.30" x2="297.60" y2="345.60" stroke="#1c1c1c" stroke-width="0.7" />
<line x1="418.30" y1="335.20" x2="418.30" y2="348.80" stroke="#1c1c1c" stroke-width="0.7" />
<line x1="445.20" y1="335.20" x2="445.20" y2="360.80" stroke="#1c1c1c" stroke-width="0.7" />
<line x1="418.30" y1="339.40" x2="445.20" y2="339.40" stroke="#1c1c1c" stroke-width="0.7" />
<polygon points="418.30,339.40 430.10,336.25 430.10,342.55" fill="#1c1c1c"/>
<polygon points="445.20,339.40 433.40,336.25 433.40,342.55" fill="#1c1c1c"/>
<text x="426.30" y="333.50" font-size="10.5" font-weight="bold" stroke="#1c1c1c" stroke-width="0.2" textLength="11.80" lengthAdjust="spacingAndGlyphs">VE</text>
<line x1="68.50" y1="359.50" x2="144.80" y2="359.50" stroke="#1c1c1c" stroke-width="0.7" />
<line x1="68.50" y1="427.30" x2="166.00" y2="427.30" stroke="#1c1c1c" stroke-width="0.7" />
<line x1="72.70" y1="359.50" x2="72.70" y2="427.30" stroke="#1c1c1c" stroke-width="0.7" />
<polygon points="72.70,359.50 69.55,371.30 75.85,371.30" fill="#1c1c1c"/>
<polygon points="72.70,427.30 69.55,415.50 75.85,415.50" fill="#1c1c1c"/>
<text transform="translate(70.10,406.10) rotate(-90)" font-size="10.7" font-weight="bold" stroke="#1c1c1c" stroke-width="0.2" textLength="25.10" lengthAdjust="spacingAndGlyphs">Ø RA</text>
<line x1="438.00" y1="359.20" x2="535.80" y2="359.20" stroke="#1c1c1c" stroke-width="0.7" />
<line x1="425.30" y1="426.90" x2="535.70" y2="426.90" stroke="#1c1c1c" stroke-width="0.7" />
<line x1="531.60" y1="359.20" x2="531.60" y2="426.90" stroke="#1c1c1c" stroke-width="0.7" />
<polygon points="531.60,359.20 528.45,371.00 534.75,371.00" fill="#1c1c1c"/>
<polygon points="531.60,426.90 528.45,415.10 534.75,415.10" fill="#1c1c1c"/>
<text transform="translate(529.60,405.40) rotate(-90)" font-size="10.7" font-weight="bold" stroke="#1c1c1c" stroke-width="0.2" textLength="25.20" lengthAdjust="spacingAndGlyphs">Ø RA</text>
</svg>
</body></html>
